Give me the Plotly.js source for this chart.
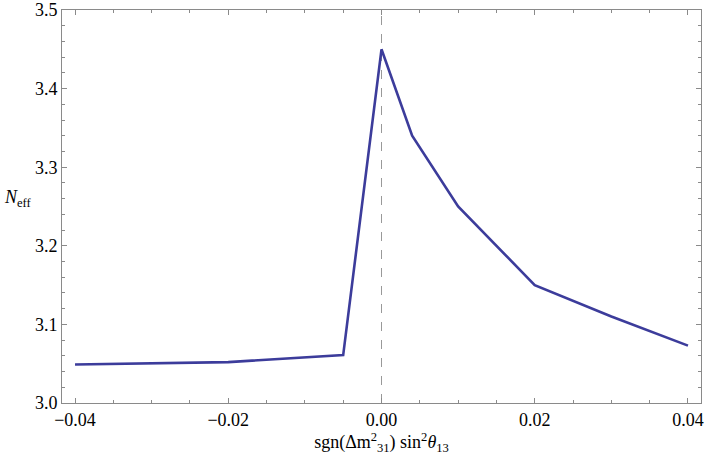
<!DOCTYPE html>
<html>
<head>
<meta charset="utf-8">
<script src="https://cdn.plot.ly/plotly-3.0.1.min.js"></script>
<style>html,body{margin:0;padding:0;background:#fff;}#chart{width:706px;height:459px;}</style>
</head>
<body>
<div id="chart"></div>
<script>
const xValues = [-0.04, -0.03, -0.02, -0.005, 0.0, 0.004, 0.01, 0.02, 0.03, 0.04];
const nEff    = [3.049, 3.0505, 3.052, 3.061, 3.45, 3.34, 3.25, 3.15, 3.11, 3.073];
const xTickVals = [-0.04, -0.02, 0, 0.02, 0.04];
const xTickText = ['\u22120.04', '\u22120.02', '0.00', '0.02', '0.04'];
const yTickVals = [3.0, 3.1, 3.2, 3.3, 3.4, 3.5];
const yTickText = ['3.0', '3.1', '3.2', '3.3', '3.4', '3.5'];

const serif = 'Liberation Serif';
const frame = '#8a8a8a';

const trace = {
  x: xValues, y: nEff, type: 'scatter', mode: 'lines',
  line: {color: 'rgb(60,60,155)', width: 2.6},
  hoverinfo: 'skip'
};

const layout = {
  width: 706, height: 459,
  font: {family: serif, size: 18, color: '#000'},
  margin: {l: 62, r: 5, t: 10, b: 56},
  paper_bgcolor: '#fff', plot_bgcolor: '#fff',
  showlegend: false,
  xaxis: {
    showgrid: false, zeroline: false, showline: true, linecolor: frame, linewidth: 1,
    mirror: 'ticks', ticks: 'inside', tickcolor: frame, ticklen: 5, tickwidth: 1,
    tickfont: {family: serif, size: 18, color: '#000'},
    range: [-0.0417, 0.0417],
    tickmode: 'array', tickvals: xTickVals, ticktext: xTickText,
    minor: {ticks: 'inside', dtick: 0.005, tick0: 0, ticklen: 3, tickcolor: frame, tickwidth: 1, showgrid: false},
    title: {text: 'sgn(\u0394m<sup>2</sup><sub>31</sub>) sin<sup>2</sup><i>\u03b8</i><sub>13</sub>', font: {family: serif, size: 18, color: '#000'}, standoff: 2}
  },
  yaxis: {
    showgrid: false, zeroline: false, showline: true, linecolor: frame, linewidth: 1,
    mirror: 'ticks', ticks: 'inside', tickcolor: frame, ticklen: 5, tickwidth: 1,
    tickfont: {family: serif, size: 18, color: '#000'},
    range: [3.0, 3.5],
    tickmode: 'array', tickvals: yTickVals, ticktext: yTickText,
    minor: {ticks: 'inside', dtick: 0.02, tick0: 3.0, ticklen: 3, tickcolor: frame, tickwidth: 1, showgrid: false}
  },
  shapes: [{
    type: 'line', xref: 'x', yref: 'paper', x0: 0, x1: 0, y0: 0, y1: 1,
    line: {color: '#999', width: 1, dash: 'dash'}, layer: 'below'
  }],
  annotations: [{
    text: '<i>N</i><sub>eff</sub>', xref: 'paper', yref: 'paper',
    x: -0.094, y: 0.52, xanchor: 'left', yanchor: 'middle', showarrow: false,
    font: {family: serif, size: 18, color: '#000'}
  }]
};

Plotly.newPlot('chart', [trace], layout, {displayModeBar: false}).then(function (gd) {
  // mirror inline CSS font settings onto SVG attributes so any renderer picks them up
  gd.querySelectorAll('svg text, svg tspan').forEach(function (el) {
    const cs = window.getComputedStyle(el);
    if (el.style.fontSize) el.setAttribute('font-size', el.style.fontSize);
    else if (el.tagName === 'text' && cs.fontSize) el.setAttribute('font-size', cs.fontSize);
    if (el.tagName === 'text') el.setAttribute('font-family', serif);
    if (el.style.fontStyle) el.setAttribute('font-style', el.style.fontStyle);
  });
});
</script>
</body>
</html>
